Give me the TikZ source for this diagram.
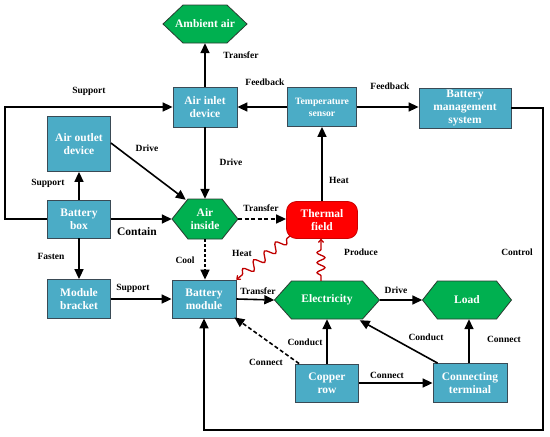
\documentclass[tikz,border=0pt]{standalone}
\usepackage{fontspec}
\setmainfont{Liberation Serif}
\usetikzlibrary{arrows.meta,decorations.pathmorphing,calc}
\definecolor{boxblue}{HTML}{4BACC6}
\definecolor{boxedge}{HTML}{3A4A55}
\definecolor{hexgreen}{HTML}{00B050}
\definecolor{hexedge}{HTML}{2A3A30}
\definecolor{redfield}{HTML}{FF0000}
\definecolor{snakered}{HTML}{C00000}
\newcommand\nodefont{\fontsize{11.5}{13}\selectfont\bfseries}
\newcommand\smallnodefont{\fontsize{9.7}{12}\selectfont\bfseries}
\newcommand\lblfont{\fontsize{9.5}{11}\selectfont\bfseries}
\tikzset{
  bluebox/.style={draw=boxedge, fill=boxblue, line width=0.8pt, text=white, font=\nodefont, align=center, inner sep=1pt},
  hextext/.style={text=white, font=\nodefont, align=center, inner sep=1pt},
  hexshape/.style={draw=hexedge, fill=hexgreen, line width=0.8pt},
  redbox/.style={draw=redfield!80!black, fill=redfield, rounded corners=10pt, line width=0.8pt, text=white, font=\nodefont, align=center, inner sep=1pt},
  lbl/.style={font=\lblfont, inner sep=1pt},
  arr/.style={line width=1.6pt, -{Triangle[length=10pt,width=9pt]}},
  darr/.style={arr, dash pattern=on 4pt off 2.5pt},
  snk/.style={draw=snakered, line width=1.3pt, -{To[length=4pt,width=6pt]}, decorate,
    decoration={snake, amplitude=4.5pt, segment length=14pt, pre length=4pt, post length=6pt}},
  snk2/.style={snk, decoration={snake, amplitude=4pt, segment length=10pt, pre length=5pt, post length=7pt}},
}
% name, x, y, w, h, slant, text
\newcommand\hexn[7]{%
  \path[hexshape] (#2-#4/2,#3) -- (#2-#4/2+#6,#3-#5/2) -- (#2+#4/2-#6,#3-#5/2) -- (#2+#4/2,#3)
     -- (#2+#4/2-#6,#3+#5/2) -- (#2-#4/2+#6,#3+#5/2) -- cycle;
  \node[hextext, minimum width=#4pt, minimum height=#5pt] (#1) at (#2,#3) {#7};
}
\begin{document}
\begin{tikzpicture}[x=1pt,y=-1pt]
\useasboundingbox (0,0) rectangle (550,437);
% hexagons
\hexn{amb}{205}{24}{84}{38}{20}{Ambient air}
\hexn{ain}{205}{219}{66}{40}{16}{Air\\inside}
\hexn{elec}{327}{300}{105}{38}{17}{Electricity}
\hexn{load}{467}{300}{89}{38}{15}{Load}
% boxes
\node[bluebox, minimum width=64pt, minimum height=40pt] (ail) at (205,107) {Air inlet\\device};
\node[bluebox, minimum width=69pt, minimum height=39pt, font=\smallnodefont] (ts) at (322,107) {Temperature\\sensor};
\node[bluebox, minimum width=92pt, minimum height=40pt] (bms) at (465,108) {Battery\\management\\system};
\node[bluebox, minimum width=63pt, minimum height=55pt] (aod) at (79,144) {Air outlet\\device};
\node[bluebox, minimum width=63pt, minimum height=38pt] (bb) at (79,219) {Battery\\box};
\node[redbox, minimum width=71pt, minimum height=37pt] (tf) at (322,220) {Thermal\\field};
\node[bluebox, minimum width=63pt, minimum height=39pt] (mb) at (79,299) {Module\\bracket};
\node[bluebox, minimum width=64pt, minimum height=38pt] (bm) at (204,299) {Battery\\module};
\node[bluebox, minimum width=63pt, minimum height=38pt] (cr) at (327,383) {Copper\\row};
\node[bluebox, minimum width=74pt, minimum height=39pt] (ct) at (470,383) {Connecting\\terminal};
% coordinates for routed lines
\coordinate (c0) at (5,219);
\coordinate (c1) at (543,430);
% connectors
\draw[arr] (ail.north) -- (amb.south);
\draw[arr] (ts.west) -- (ail.east);
\draw[arr] (ts.east) -- (bms.west |- ts.east);
\draw[arr] (bb.west) -- (c0) |- (ail.west);
\draw[arr] (bb.north) -- (aod.south);
\draw[arr] ([yshift=1pt]aod.east) -- ([xshift=14pt,yshift=-1pt]ain.north west);
\draw[arr] (ail.south) -- (ain.north);
\draw[arr] (bb.east) -- (ain.west);
\draw[darr] (ain.east) -- (tf.west |- ain.east);
\draw[arr] (tf.north) -- (ts.south);
\draw[arr, dash pattern=on 3pt off 2pt] (ain.south) -- (ain.south |- bm.north);
\draw[snk] ([shift={(4,-3)}]tf.south west) -- (bm.north east);
\draw[snk2] ([xshift=-6pt]elec.north) -- ([xshift=-1pt]tf.south);
\draw[arr] (bb.south) -- (mb.north);
\draw[arr] (mb.east) -- (bm.west);
\draw[arr] (bm.east) -- (elec.west);
\draw[arr] (elec.east) -- (load.west);
\draw[arr] (cr.north) -- (elec.south);
\draw[arr] ([xshift=5pt]ct.north west) -- ([xshift=-20pt,yshift=-1pt]elec.south east);
\draw[arr] ([xshift=-1pt]ct.north) -- ([xshift=-1pt]ct.north |- load.south);
\draw[arr] (cr.east) -- (ct.west);
\draw[darr] ([xshift=4pt]cr.north west) -- ([xshift=-2pt,yshift=1pt]bm.south east);
\draw[arr] (bms.east) -| (c1) -| (bm.south);
% labels
\node[lbl] (l1) at (241,55) {Transfer};
\node[lbl] (l2) at (265,82) {Feedback};
\node[lbl] (l3) at (390,86) {Feedback};
\node[lbl] (l4) at (89,91) {Support};
\node[lbl] (l5) at (147,148) {Drive};
\node[lbl] (l6) at (231,162) {Drive};
\node[lbl] (l7) at (48,183) {Support};
\node[lbl] (l8) at (339,180) {Heat};
\node[lbl] (l9) at (261,208) {Transfer};
\node[lbl, font=\nodefont] (l10) at (137,232) {Contain};
\node[lbl] (l11) at (51,256) {Fasten};
\node[lbl] (l12) at (185,260) {Cool};
\node[lbl] (l13) at (242,253) {Heat};
\node[lbl] (l14) at (133,288) {Support};
\node[lbl] (l15) at (258,291) {Transfer};
\node[lbl] (l16) at (361,252) {Produce};
\node[lbl] (l17) at (517,252) {Control};
\node[lbl] (l18) at (396,290) {Drive};
\node[lbl] (l19) at (305,342) {Conduct};
\node[lbl] (l20) at (426,337) {Conduct};
\node[lbl] (l21) at (504,339) {Connect};
\node[lbl] (l22) at (387,375) {Connect};
\node[lbl] (l23) at (266,362) {Connect};
\end{tikzpicture}
\end{document}
